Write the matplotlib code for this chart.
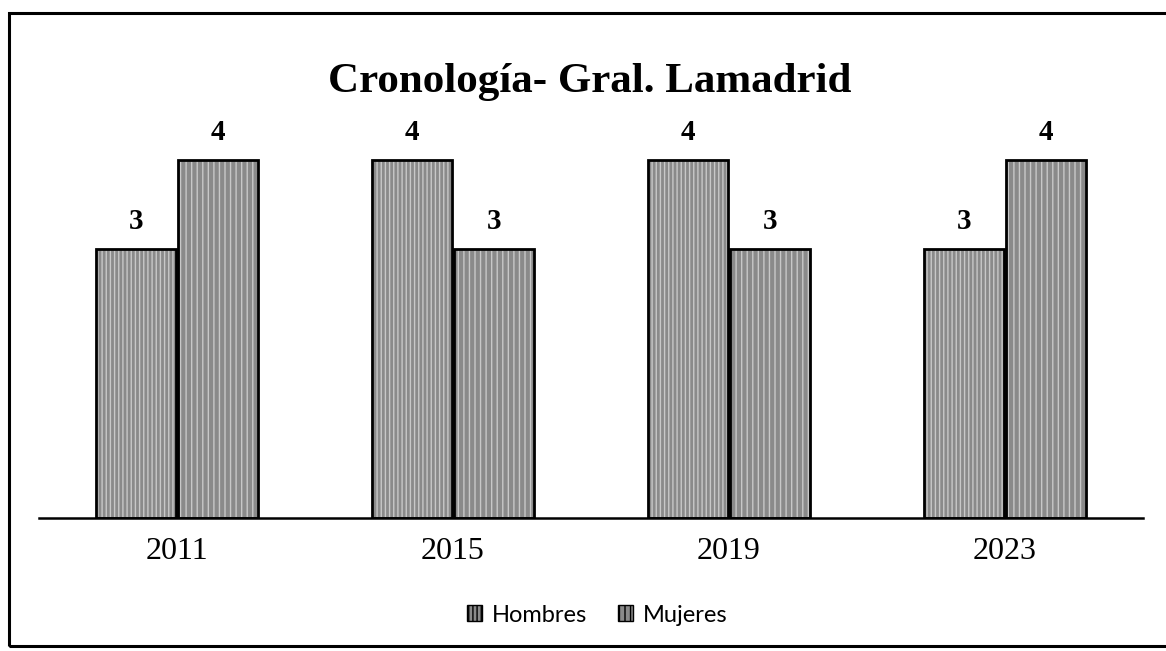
import matplotlib
matplotlib.use('Agg')
import matplotlib.pyplot as plt
import matplotlib.patches as patches
import numpy as np

years = ['2011', '2015', '2019', '2023']
hombres = [3, 4, 4, 3]
mujeres = [4, 3, 3, 4]

fig = plt.figure(figsize=(11.66, 6.51), dpi=100)
W, H = 1166, 651

# chart border
fig.patches.append(patches.Rectangle((9 / W, (H - 646) / H), 1.2, (646 - 13) / H,
                                     transform=fig.transFigure, fill=False,
                                     edgecolor='black', linewidth=2.2))

ax = fig.add_axes([39 / W, 133 / H, 1104 / W, 403 / H])
x = np.arange(len(years))
w = 0.29
off = 0.149

# bars: textured fill then black outline
for vals, dx, hatch in [(hombres, -off, '||||'), (mujeres, off, '|||')]:
    ax.bar(x + dx, vals, w, color='#8a8a8a', edgecolor='#c8c8c8', hatch=hatch, linewidth=0)
    b = ax.bar(x + dx, vals, w, fill=False, edgecolor='black', linewidth=2)
    ax.bar_label(b, padding=10, fontsize=21, fontweight='bold', family='Liberation Serif')

ax.set_xlim(-0.5, 3.5)
ax.set_ylim(0, 4.5)
ax.set_xticks(x)
ax.set_xticklabels(years, family='Liberation Serif', fontsize=23)
ax.tick_params(axis='x', length=0, pad=14)
ax.set_yticks([])
for s in ['left', 'right', 'top']:
    ax.spines[s].set_visible(False)
ax.spines['bottom'].set_linewidth(1.8)

fig.text(0.506, (H - 82) / H, 'Cronología- Gral. Lamadrid', ha='center', va='center',
         family='Liberation Serif', fontweight='bold', fontsize=31)

handles = [patches.Patch(facecolor='#8a8a8a', edgecolor='black', hatch='||||', label='Hombres'),
           patches.Patch(facecolor='#8a8a8a', edgecolor='black', hatch='|||', label='Mujeres')]
fig.legend(handles=handles, loc='center', bbox_to_anchor=(0.512, (H - 615) / H), ncol=2,
           frameon=False, handlelength=0.65, handleheight=0.65, handletextpad=0.4,
           columnspacing=1.3, prop={'family': 'Lato', 'size': 17})

fig.savefig('out.png', dpi=100)
